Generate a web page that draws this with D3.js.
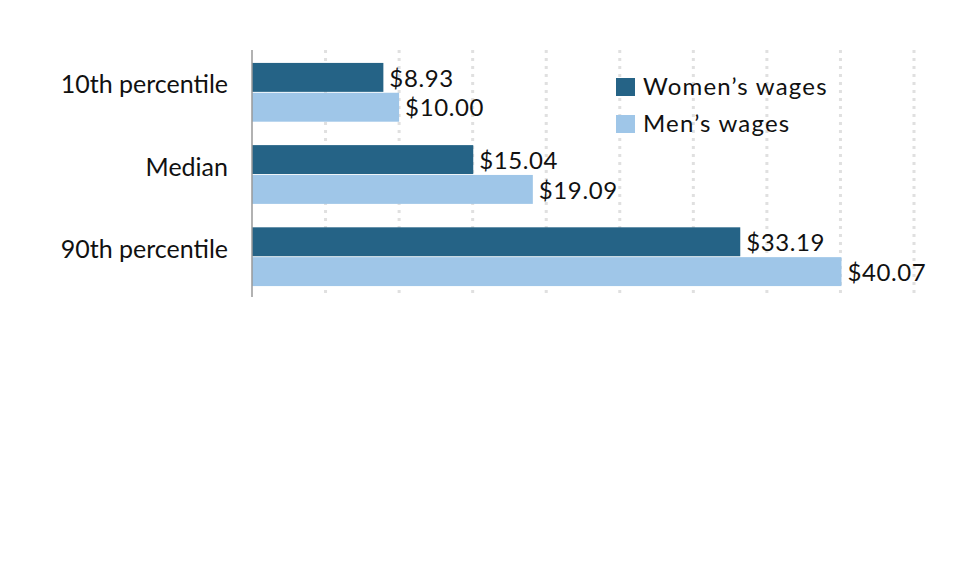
<!DOCTYPE html>
<html><head><meta charset="utf-8">
<script src="https://cdn.jsdelivr.net/npm/d3@7"></script>
<style>body{margin:0;background:#fff}svg{display:block}text{font-family:Lato,"Open Sans",sans-serif;fill:#111}</style>
</head><body><svg id="c" width="980" height="564"></svg>
<script>
const categories = ["10th percentile", "Median", "90th percentile"];
const seriesNames = ["Women\u2019s wages", "Men\u2019s wages"];
const women = [8.93, 15.04, 33.19];
const men = [10.00, 19.09, 40.07];
const xTicks = [0, 5, 10, 15, 20, 25, 30, 35, 40, 45];
const colors = ["#256386", "#9fc6e8"];

(function () {
const svg = d3.select("#c");
const x = d3.scaleLinear().domain([0, 45]).range([252, 914]);
const y = d3.scaleBand().domain(categories).range([51, 298]).paddingInner(0.285).paddingOuter(0.145);
const sub = d3.scaleBand().domain([0, 1]).range([0, y.bandwidth()]).paddingInner(0.03);

const yTop = 50, yBottom = 297;
svg.append("g").selectAll("line").data(xTicks.filter(d => d > 0)).join("line")
  .attr("x1", d => x(d)).attr("x2", d => x(d)).attr("y1", yTop).attr("y2", yBottom)
  .attr("stroke", "#e0e0e0").attr("stroke-width", 3).attr("stroke-dasharray", "3,5");

const data = categories.map((c, i) => ({c, vals: [women[i], men[i]]}));
const g = svg.append("g");
data.forEach(d => {
  d.vals.forEach((v, j) => {
    g.append("rect").attr("x", x(0)).attr("y", y(d.c) + sub(j))
      .attr("width", x(v) - x(0)).attr("height", sub.bandwidth()).attr("fill", colors[j]);
    g.append("text").attr("x", x(v) + 6).attr("y", y(d.c) + sub(j) + sub.bandwidth() / 2)
      .attr("dy", "0.38em").attr("font-size", 24).attr("letter-spacing", 0.6).text("$" + v.toFixed(2));
  });
  svg.append("text").attr("x", 228).attr("y", y(d.c) + y.bandwidth() / 2 + 1)
    .attr("text-anchor", "end").attr("font-size", 25).text(d.c);
});

svg.append("line").attr("x1", x(0)).attr("x2", x(0)).attr("y1", yTop).attr("y2", yBottom)
  .attr("stroke", "#999").attr("stroke-width", 1.5);

const leg = svg.append("g");
seriesNames.forEach((s, j) => {
  leg.append("rect").attr("x", 616).attr("y", 78 + j * 37).attr("width", 19).attr("height", 18).attr("fill", colors[j]);
  leg.append("text").attr("x", 643).attr("y", 95 + j * 37).attr("font-size", 24).attr("letter-spacing", 1.2).text(s);
});
})();
</script></body></html>
